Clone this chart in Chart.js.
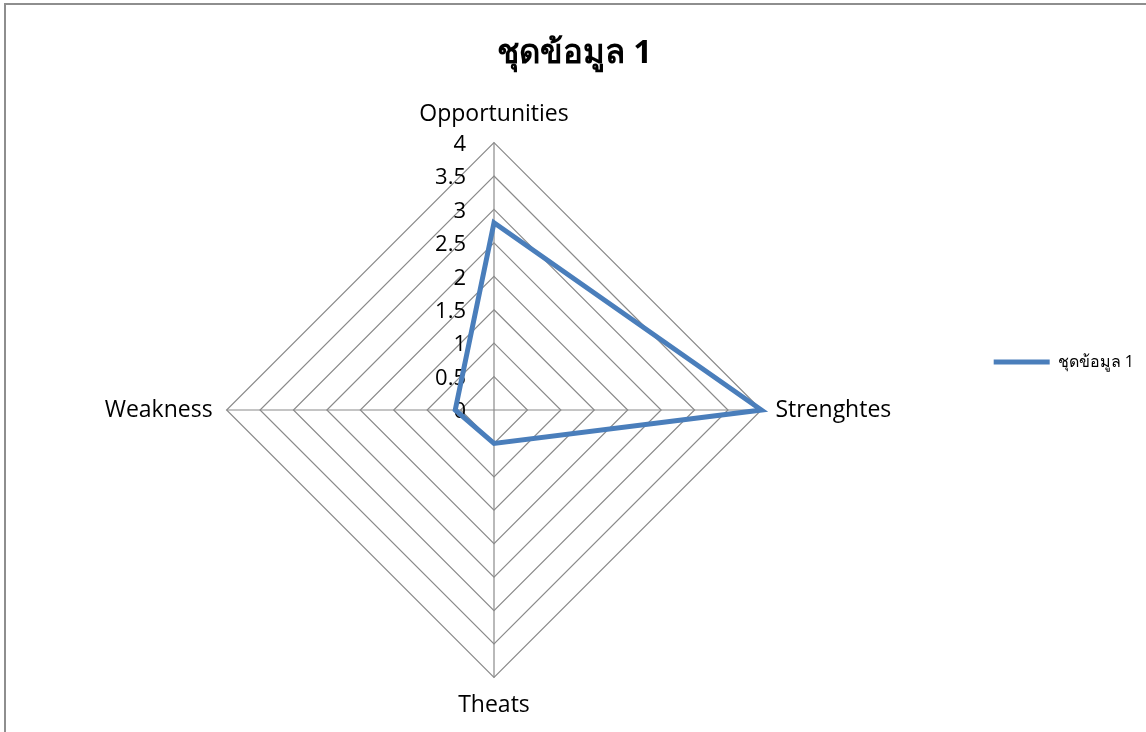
<!DOCTYPE html>
<html lang="th">
<head>
  <meta charset="UTF-8">
  <title>ชุดข้อมูล 1</title>
  <script src="https://cdn.jsdelivr.net/npm/chart.js"></script>
  <style>
    html, body { margin: 0; padding: 0; background: #fff; overflow: hidden; }
    /* grey frame of the chart object, only top and left edges are visible */
    .frame {
      position: absolute; left: 4px; top: 3px; width: 1200px; height: 800px;
      border-top: 2px solid #8e8e8e; border-left: 2px solid #8e8e8e;
    }
    .wrap { position: absolute; left: 0; top: 0; width: 1146px; height: 732px; }
  </style>
</head>
<body>
  <div class="frame"></div>
  <div class="wrap"><canvas id="chart"></canvas></div>

  <script>
    // Data
    const categories = ['Opportunities', 'Strenghtes', 'Theats', 'Weakness'];
    const seriesName = 'ชุดข้อมูล 1';
    const seriesValues = [2.8, 4, 0.5, 0.58];
    const tickLabels = ['0', '0.5', '1', '1.5', '2', '2.5', '3', '3.5', '4'];

    const FONT = '"Open Sans", "Noto Sans", sans-serif';

    // value labels sit left of the vertical axis, right aligned
    const radarTicks = {
      id: 'radarTicks',
      beforeDatasetsDraw(chart) {
        const r = chart.scales.r;
        const ctx = chart.ctx;
        ctx.save();
        ctx.font = '22px ' + FONT;
        ctx.fillStyle = '#000';
        ctx.textAlign = 'right';
        ctx.textBaseline = 'middle';
        r.ticks.forEach(t => {
          const d = r.getDistanceFromCenterForValue(t.value);
          ctx.fillText(t.label, r.xCenter - 28, r.yCenter - d + 2);
        });
        ctx.restore();
      }
    };

    new Chart(document.getElementById('chart'), {
      type: 'radar',
      data: {
        labels: categories,
        datasets: [{
          label: seriesName,
          data: seriesValues,
          borderColor: '#4a7ebb',
          backgroundColor: 'rgba(0,0,0,0)',
          borderWidth: 5,
          fill: false,
          pointRadius: 0,
          pointHoverRadius: 0
        }]
      },
      options: {
        responsive: true,
        maintainAspectRatio: false,
        animation: false,
        layout: { padding: { left: 5, right: 2, top: 4, bottom: 12 } },
        plugins: {
          title: {
            display: true,
            text: seriesName,
            color: '#000',
            font: { family: FONT, size: 33, weight: 'bold' },
            padding: { top: 30, bottom: 28.4 }
          },
          legend: {
            position: 'right',
            labels: {
              usePointStyle: true,
              pointStyle: 'line',
              pointStyleWidth: 56,
              color: '#000',
              padding: 10,
              font: { family: FONT, size: 16 }
            }
          },
          tooltip: { enabled: false }
        },
        scales: {
          r: {
            min: 0,
            max: 4,
            ticks: {
              stepSize: 0.5,
              display: false,
              callback: (v, i) => tickLabels[i]
            },
            grid: { color: '#8a8a8a', lineWidth: 1.2 },
            angleLines: { color: '#8a8a8a', lineWidth: 1.2 },
            pointLabels: {
              color: '#000',
              padding: 14,
              font: { family: FONT, size: 23 }
            }
          }
        }
      },
      plugins: [radarTicks]
    });
  </script>
</body>
</html>
